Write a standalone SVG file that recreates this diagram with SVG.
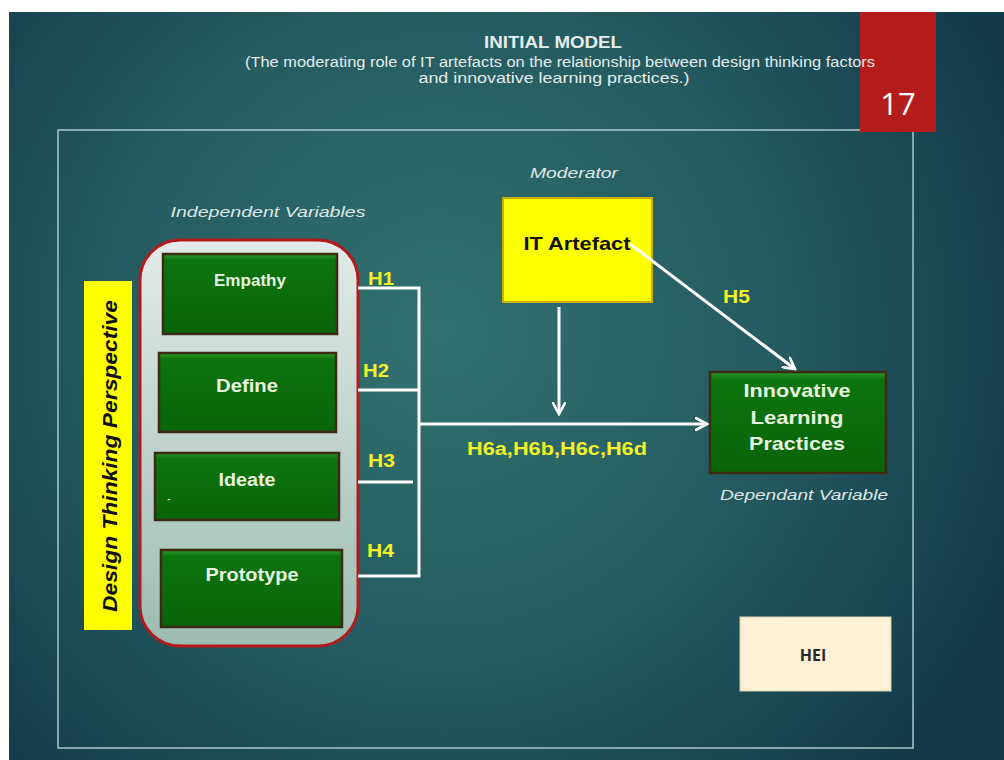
<svg xmlns="http://www.w3.org/2000/svg" width="1004" height="760" viewBox="0 0 1004 760">
<defs>
<radialGradient id="bg" cx="440" cy="330" r="620" gradientUnits="userSpaceOnUse">
<stop offset="0" stop-color="#32716f"/>
<stop offset="0.55" stop-color="#245a60"/>
<stop offset="1" stop-color="#143a4a"/>
</radialGradient>
<linearGradient id="cont" x1="0" y1="0" x2="0" y2="1">
<stop offset="0" stop-color="#e2ebe7"/>
<stop offset="1" stop-color="#9dbcb1"/>
</linearGradient>
<linearGradient id="grn" x1="0" y1="0" x2="0" y2="1">
<stop offset="0" stop-color="#2a9a2a"/>
<stop offset="0.08" stop-color="#0d740d"/>
<stop offset="1" stop-color="#096409"/>
</linearGradient>
<marker id="ah" viewBox="0 0 14 14" refX="12" refY="7" markerWidth="14" markerHeight="14" markerUnits="userSpaceOnUse" orient="auto">
<path d="M1,1 L12,7 L1,13" fill="none" stroke="#ffffff" stroke-width="2.6" stroke-linecap="round"/>
</marker>
</defs>
<style>
.ln{stroke:#ffffff;stroke-width:3;fill:none}
.gbox{fill:url(#grn);stroke:#3d2a14;stroke-width:2.5}
.gt{font-family:"Liberation Sans",Arial,sans-serif;font-weight:bold;fill:#e6f2df;text-anchor:middle}
.hl{font-family:"Liberation Sans",Arial,sans-serif;font-weight:bold;fill:#f2f226;font-size:18px}
.it{font-family:"Liberation Sans",Arial,sans-serif;font-style:italic;fill:#dfe7e7;text-anchor:middle;font-size:15px}
.tt{font-family:"Liberation Sans",Arial,sans-serif;fill:#e4ecec;text-anchor:middle}
</style>
<rect x="0" y="0" width="1004" height="760" fill="#ffffff"/>
<rect x="9" y="12" width="995" height="748" fill="url(#bg)"/>
<rect x="58" y="130" width="855" height="618" fill="none" stroke="#a9c6cc" stroke-width="1.5"/>
<g id="slide-number">
<rect x="860" y="12" width="76" height="120" fill="#b51c1c"/>
<text x="898" y="115" font-family="'Open Sans','Liberation Sans',sans-serif" font-size="31" fill="#ffffff" text-anchor="middle">17</text>
</g>
<g id="title">
<text class="tt" x="553" y="48" font-size="16" font-weight="bold" textLength="138" lengthAdjust="spacingAndGlyphs">INITIAL MODEL</text>
<text class="tt" x="560" y="67" font-size="14" textLength="630" lengthAdjust="spacingAndGlyphs">(The moderating role of IT artefacts on the relationship between design thinking factors</text>
<text class="tt" x="554" y="83" font-size="14" textLength="271" lengthAdjust="spacingAndGlyphs">and innovative learning practices.)</text>
</g>
<g id="perspective">
<rect x="84" y="281" width="48" height="349" fill="#ffff00"/>
<text transform="translate(117,456) rotate(-90)" font-family="'Liberation Sans',Arial,sans-serif" font-weight="bold" font-style="italic" font-size="21" fill="#111111" text-anchor="middle" textLength="312" lengthAdjust="spacingAndGlyphs">Design Thinking Perspective</text>
</g>
<g id="independent-label">
<text class="it" x="268" y="217" textLength="195" lengthAdjust="spacingAndGlyphs">Independent Variables</text>
</g>
<g id="container">
<rect x="140" y="240" width="218" height="406" rx="40" ry="40" fill="url(#cont)" stroke="#b3191e" stroke-width="3"/>
</g>
<g id="empathy">
<rect class="gbox" x="163" y="254" width="174" height="80"/>
<text class="gt" x="250" y="286" font-size="17" textLength="72" lengthAdjust="spacingAndGlyphs">Empathy</text>
</g>
<g id="define">
<rect class="gbox" x="159" y="353" width="177" height="79"/>
<text class="gt" x="247" y="392" font-size="18" textLength="62" lengthAdjust="spacingAndGlyphs">Define</text>
</g>
<g id="ideate">
<rect class="gbox" x="155" y="453" width="184" height="67"/>
<text class="gt" x="247" y="486" font-size="18" textLength="57" lengthAdjust="spacingAndGlyphs">Ideate</text>
<text class="gt" x="169" y="502" font-size="10">-</text>
</g>
<g id="prototype">
<rect class="gbox" x="161" y="550" width="181" height="77"/>
<text class="gt" x="252" y="581" font-size="18" textLength="93" lengthAdjust="spacingAndGlyphs">Prototype</text>
</g>
<g id="moderator-label">
<text class="it" x="574" y="178" textLength="88" lengthAdjust="spacingAndGlyphs">Moderator</text>
</g>
<g id="it-artefact">
<rect x="503" y="198" width="149" height="104" fill="#ffff00" stroke="#c9b000" stroke-width="2"/>
<text x="577" y="250" font-family="'Liberation Sans',Arial,sans-serif" font-weight="bold" font-size="19" fill="#111111" text-anchor="middle" textLength="107" lengthAdjust="spacingAndGlyphs">IT Artefact</text>
</g>
<g id="innovative">
<rect class="gbox" x="710" y="372" width="176" height="101"/>
<text class="gt" x="797" y="397" font-size="19" textLength="107" lengthAdjust="spacingAndGlyphs">Innovative</text>
<text class="gt" x="797" y="424" font-size="19" textLength="93" lengthAdjust="spacingAndGlyphs">Learning</text>
<text class="gt" x="797" y="450" font-size="19" textLength="96" lengthAdjust="spacingAndGlyphs">Practices</text>
</g>
<g id="dependant-label">
<text class="it" x="804" y="500" textLength="168" lengthAdjust="spacingAndGlyphs">Dependant Variable</text>
</g>
<g id="hei">
<rect x="740" y="617" width="151" height="74" fill="#fdf1d3" stroke="#d8cfb0" stroke-width="1"/>
<text x="813" y="661" font-family="'Open Sans','Liberation Sans',sans-serif" font-weight="bold" font-size="16" fill="#2a2a2a" text-anchor="middle">HEI</text>
</g>
<g id="connectors">
<polyline class="ln" points="358,288 419,288 419,576 358,576"/>
<line class="ln" x1="358" y1="390" x2="419" y2="390"/>
<line class="ln" x1="358" y1="482" x2="413" y2="482"/>
<line class="ln" x1="419" y1="424" x2="707" y2="424" marker-end="url(#ah)"/>
<line class="ln" x1="559" y1="307" x2="559" y2="414" marker-end="url(#ah)"/>
<line class="ln" x1="630" y1="244" x2="795" y2="369" marker-end="url(#ah)"/>
<text class="hl" x="368" y="285" textLength="26" lengthAdjust="spacingAndGlyphs">H1</text>
<text class="hl" x="363" y="377" textLength="26" lengthAdjust="spacingAndGlyphs">H2</text>
<text class="hl" x="368" y="467" textLength="27" lengthAdjust="spacingAndGlyphs">H3</text>
<text class="hl" x="367" y="557" textLength="27" lengthAdjust="spacingAndGlyphs">H4</text>
<text class="hl" x="723" y="303" textLength="27" lengthAdjust="spacingAndGlyphs">H5</text>
<text class="hl" x="467" y="455" textLength="180" lengthAdjust="spacingAndGlyphs">H6a,H6b,H6c,H6d</text>
</g>
</svg>
